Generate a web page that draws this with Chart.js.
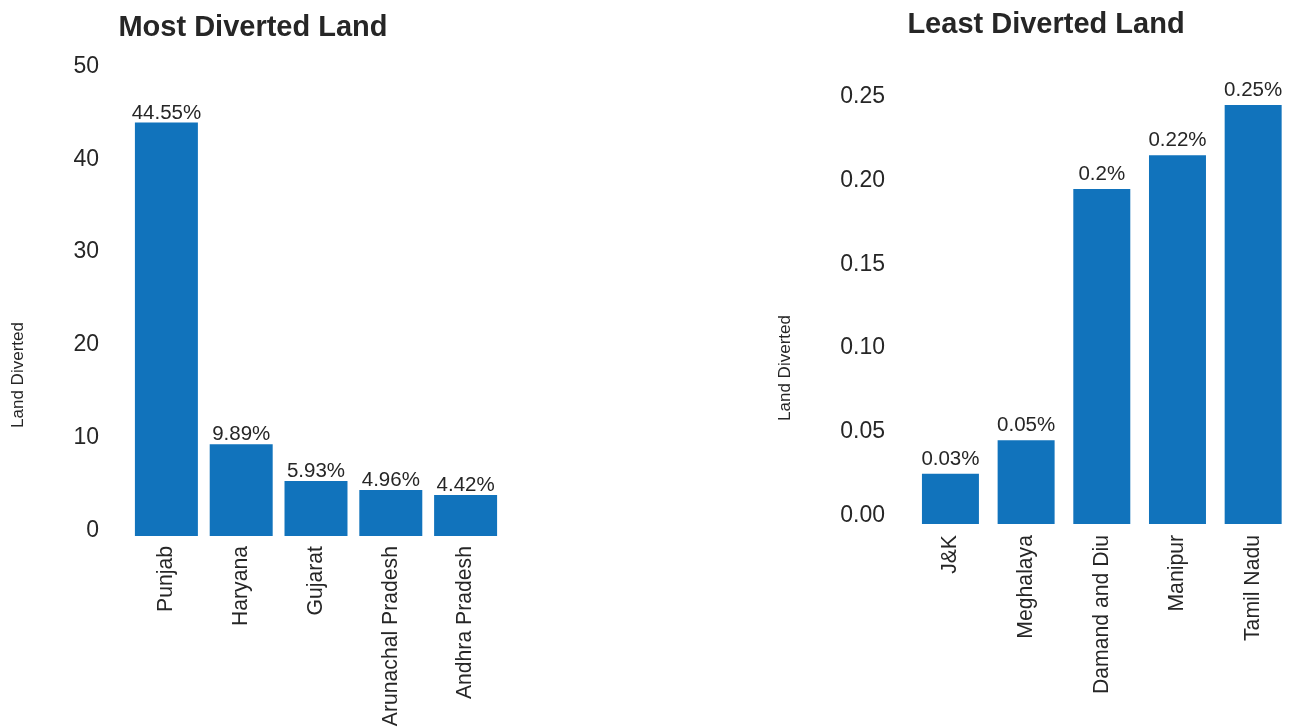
<!DOCTYPE html>
<html>
<head>
<meta charset="utf-8">
<script src="https://cdn.jsdelivr.net/npm/chart.js@4/dist/chart.umd.min.js"></script>
<style>
html, body { margin:0; padding:0; background:#fff; overflow:hidden; }
#mostBox { position:absolute; left:0; top:0; width:520px; height:727px; }
#leastBox { position:absolute; left:700px; top:0; width:605px; height:727px; }
</style>
</head>
<body>
<div id="mostBox"><canvas id="mostChart"></canvas></div>
<div id="leastBox"><canvas id="leastChart"></canvas></div>
<script>
// data
var mostStates = ['Punjab', 'Haryana', 'Gujarat', 'Arunachal Pradesh', 'Andhra Pradesh'];
var mostValues = [44.55, 9.89, 5.93, 4.96, 4.42];
var mostTicks = [0, 10, 20, 30, 40, 50];

var leastStates = ['J&K', 'Meghalaya', 'Damand and Diu', 'Manipur', 'Tamil Nadu'];
var leastValues = [0.03, 0.05, 0.2, 0.22, 0.25];
var leastTicks = [0, 0.05, 0.10, 0.15, 0.20, 0.25];

var barColor = '#1173bc';
var textColor = '#262626';
var fontName = '"Liberation Sans", Arial, Helvetica, sans-serif';

Chart.defaults.font.family = fontName;
Chart.defaults.color = textColor;

// value labels over the bars, plus the chart title and y title
var barTextPlugin = {
  id: 'barText',
  afterDatasetsDraw: function(chart, args, opts) {
    var ctx = chart.ctx;
    var meta = chart.getDatasetMeta(0);
    var vals = chart.data.datasets[0].data;
    ctx.save();
    ctx.fillStyle = textColor;
    ctx.textAlign = 'center';
    ctx.textBaseline = 'alphabetic';
    ctx.font = '20.5px ' + fontName;
    meta.data.forEach(function(bar, i) {
      ctx.fillText(vals[i] + '%', bar.x, bar.y - opts.gap);
    });
    ctx.font = 'bold 29px ' + fontName;
    ctx.fillText(opts.title, opts.titleX, opts.titleY);
    ctx.font = '17px ' + fontName;
    ctx.translate(opts.yTitleX, opts.yTitleY);
    ctx.rotate(-Math.PI / 2);
    ctx.textBaseline = 'middle';
    ctx.fillText(opts.yTitle, 0, 0);
    ctx.restore();
  }
};

function makeChart(id, states, values, tickList, cfg) {
  return new Chart(document.getElementById(id), {
    type: 'bar',
    data: {
      labels: states,
      datasets: [{
        data: values,
        backgroundColor: barColor,
        borderWidth: 0,
        barPercentage: cfg.barPct,
        categoryPercentage: 1
      }]
    },
    options: {
      responsive: true,
      maintainAspectRatio: false,
      animation: false,
      layout: { padding: { left: 0, top: cfg.top, right: cfg.right, bottom: 0 } },
      plugins: {
        legend: { display: false },
        tooltip: { enabled: false },
        barText: cfg.text
      },
      scales: {
        x: {
          grid: { display: false, drawTicks: false },
          border: { display: false },
          ticks: {
            autoSkip: false,
            minRotation: 90,
            maxRotation: 90,
            padding: cfg.xPad,
            font: { size: 21.2 },
            color: textColor
          },
          afterFit: function(scale) { scale.height = cfg.xHeight; }
        },
        y: {
          min: 0,
          max: cfg.max,
          grid: { display: false, drawTicks: false },
          border: { display: false },
          ticks: {
            stepSize: cfg.step,
            padding: cfg.yPad,
            labelOffset: cfg.yLabelOffset,
            font: { size: 23 },
            color: textColor,
            callback: function(v) { return v.toFixed(cfg.decimals); }
          },
          afterBuildTicks: function(scale) {
            scale.ticks = tickList.map(function(v) { return { value: v }; });
          },
          afterFit: function(scale) { scale.width = cfg.yWidth; }
        }
      }
    },
    plugins: [barTextPlugin]
  });
}

var mostChart = makeChart('mostChart', mostStates, mostValues, mostTicks, {
  barPct: 0.842, top: 72, right: 17, xPad: 10, xHeight: 191,
  max: 50, step: 10, yPad: 30, yLabelOffset: -5.5, yWidth: 129, decimals: 0,
  text: { gap: 4, title: 'Most Diverted Land', titleX: 253, titleY: 36,
          yTitle: 'Land Diverted', yTitleX: 18.5, yTitleY: 375 }
});

var leastChart = makeChart('leastChart', leastStates, leastValues, leastTicks, {
  barPct: 0.753, top: 85, right: 14, xPad: 11, xHeight: 203,
  max: 0.262, step: 0.05, yPad: 27.6, yLabelOffset: -8.5, yWidth: 212.6, decimals: 2,
  text: { gap: 9, title: 'Least Diverted Land', titleX: 346, titleY: 33,
          yTitle: 'Land Diverted', yTitleX: 85, yTitleY: 368 }
});
</script>
</body>
</html>
